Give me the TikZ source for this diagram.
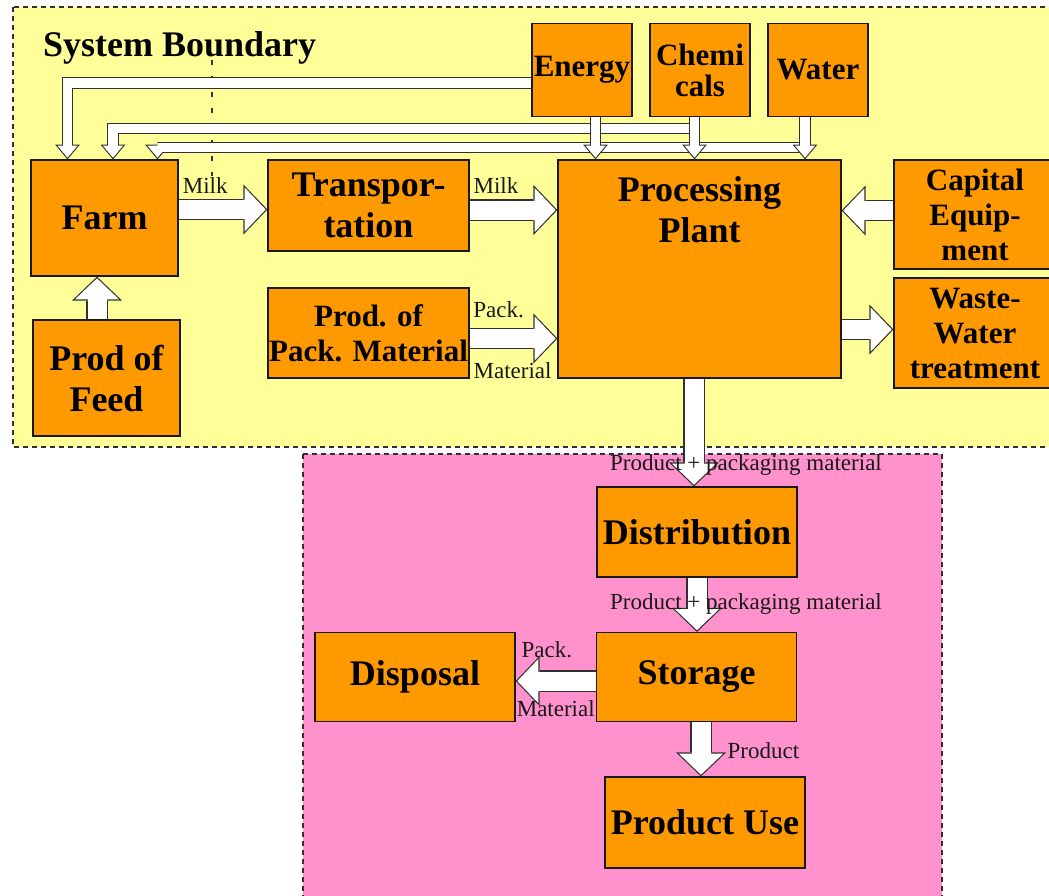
\documentclass[tikz,border=0pt]{standalone}
\usepackage{fontspec}
\setmainfont{Liberation Serif}
\usetikzlibrary{arrows.meta,positioning}

\definecolor{bgyellow}{HTML}{FFFF99}
\definecolor{bgpink}{HTML}{FF91CC}
\definecolor{boxorange}{HTML}{FF9900}
\definecolor{inkline}{HTML}{303030}

\newcommand{\boxfont}{\fontsize{36}{41}\selectfont\bfseries}
\newcommand{\smallboxfont}{\fontsize{31}{35}\selectfont\bfseries}
\newcommand{\lblfont}{\fontsize{23}{25}\selectfont}

\begin{document}
\begin{tikzpicture}[x=1pt, y=-1pt,
    box/.style={draw=black!90, line width=1.2pt, fill=boxorange, align=center, inner sep=0pt, font=\boxfont},
    smallbox/.style={box, font=\smallboxfont},
    lbl/.style={font=\lblfont, inner sep=0pt, text=black!90},
    zoneline/.style={draw=inkline, line width=1.6pt, dash pattern=on 5pt off 4pt},
    flow/.style={draw=inkline, line width=21.4pt, -{Triangle[length=24pt,width=50pt,line width=0pt]},
        postaction={draw=white, line width=19pt, -{Triangle[length=21pt,width=44pt,line width=0pt]}, shorten >=1.7pt}},
    pipe/.style={draw=inkline, line width=11.6pt, -{Triangle[length=14.8pt,width=24.7pt,line width=0pt]},
        postaction={draw=white, line width=9.4pt, -{Triangle[length=12pt,width=20pt,line width=0pt]}, shorten >=1.7pt}}
  ]
  \useasboundingbox (0,0) rectangle (1049,895);
  \clip (0,0) rectangle (1049,895);

  % the two zones
  \fill[white] (0,0) rectangle (1049,895);
  \path[fill=bgyellow, zoneline] (13,7) rectangle (1070,447);
  \path[fill=bgpink, zoneline] (303,454) rectangle (942,920);
  \node[font=\boxfont, anchor=base west, inner sep=0pt] (sysb) at (43,56) {System Boundary};
  \draw[line width=1.3pt, dash pattern=on 5pt off 11pt, black!80] (212,60) -- (212,176);

  % boxes
  \node[smallbox, minimum width=100pt, minimum height=93pt] (energy) at (582,70) {Energy};
  \node[smallbox, minimum width=100pt, minimum height=93pt, font=\fontsize{31}{31}\selectfont\bfseries] (chem) at (700,70) {Chemi\\cals};
  \node[smallbox, minimum width=100pt, minimum height=93pt] (water) at (818,70) {Water};

  \node[box, minimum width=147pt, minimum height=116pt] (farm) at (104.5,218) {Farm};
  \node[box, minimum width=147pt, minimum height=116pt] (feed) at (106.5,378) {Prod of\\Feed};
  \node[box, minimum width=201pt, minimum height=91pt] (transp) at (368.5,205.5) {Transpor-\\tation};
  \node[smallbox, minimum width=201pt, minimum height=90pt] (pack) at (368.5,333) {Prod. of\\Pack. Material};
  \node[box, minimum width=283pt, minimum height=218pt,
        label={[font=\boxfont, align=center, inner sep=0pt, anchor=north, yshift=-17pt]north:{Processing\\Plant}}] (plant) at (699.5,269) {};
  \node[smallbox, minimum width=162pt, minimum height=109pt] (capital) at (975,214.5) {Capital\\Equip-\\ment};
  \node[smallbox, minimum width=162pt, minimum height=110pt] (waste) at (975,333) {Waste-\\Water\\treatment};

  \node[box, minimum width=200pt, minimum height=90pt] (dist) at (697,532) {Distribution};
  \node[box, minimum width=200pt, minimum height=89pt] (storage) at (696.5,677) {Storage};
  \node[box, minimum width=200pt, minimum height=89pt] (disposal) at (415,677) {Disposal};
  \node[box, minimum width=200pt, minimum height=91pt] (use) at (705,822.5) {Product Use};

  % supply lines back to the farm
  \coordinate (chemjoint) at (694.5,128.5);
  \coordinate (waterjoint) at (805,147.5);
  \draw[pipe] ([yshift=-13pt]energy.west) -| ([xshift=-37pt]farm.north);
  \draw[pipe] (chemjoint) -| ([xshift=8.5pt]farm.north);
  \draw[pipe] (waterjoint) -| ([xshift=53pt]farm.north);

  % supplies into the plant
  \draw[pipe] ([xshift=13.5pt]energy.south) -- ([xshift=13.5pt]energy.south |- plant.north);
  \draw[pipe] ([xshift=-5.5pt]chem.south) -- ([xshift=-5.5pt]chem.south |- plant.north);
  \draw[pipe] ([xshift=-13pt]water.south) -- ([xshift=-13pt]water.south |- plant.north);

  % main flows
  \draw[flow] ([xshift=-9.5pt]feed.north) -- ([xshift=-9.5pt]feed.north |- farm.south);
  \draw[flow] ([yshift=-4pt]farm.east |- transp.west) -- node[lbl, pos=0.3, above=5pt] {Milk} ([yshift=-4pt]transp.west);
  \draw[flow] ([yshift=-4.5pt]transp.east) -- node[lbl, pos=0.3, above=6pt] {Milk} ([yshift=-4.5pt]transp.east -| plant.west);
  \draw[flow] ([yshift=-5.5pt]pack.east) -- node[lbl, pos=0.33, above=10pt] {Pack.}
      node[lbl, pos=0.49, below=13pt] {Material} ([yshift=-5.5pt]pack.east -| plant.west);
  \draw[flow] ([yshift=4pt]capital.west) -- ([yshift=4pt]capital.west -| plant.east);
  \draw[flow] ([yshift=3.5pt]waste.west -| plant.east) -- ([yshift=3.5pt]waste.west);

  \draw[flow] ([xshift=-5.5pt]plant.south) -- node[lbl, pos=0.8, xshift=52pt] {Product + packaging material} ([xshift=-5.5pt]plant.south |- dist.north);
  \draw[flow] (dist.south) -- node[lbl, pos=0.49, xshift=49pt] {Product + packaging material} (dist.south |- storage.north);
  \draw[flow] ([yshift=-4pt]storage.west) -- node[lbl, pos=0.61, above=12pt] {Pack.}
      node[lbl, pos=0.5, below=8.5pt] {Material} ([yshift=-4pt]storage.west -| disposal.east);
  \draw[flow] ([xshift=4.5pt]storage.south) -- node[lbl, pos=0.52, right=16pt] {Product} ([xshift=4.5pt]storage.south |- use.north);

\end{tikzpicture}
\end{document}
